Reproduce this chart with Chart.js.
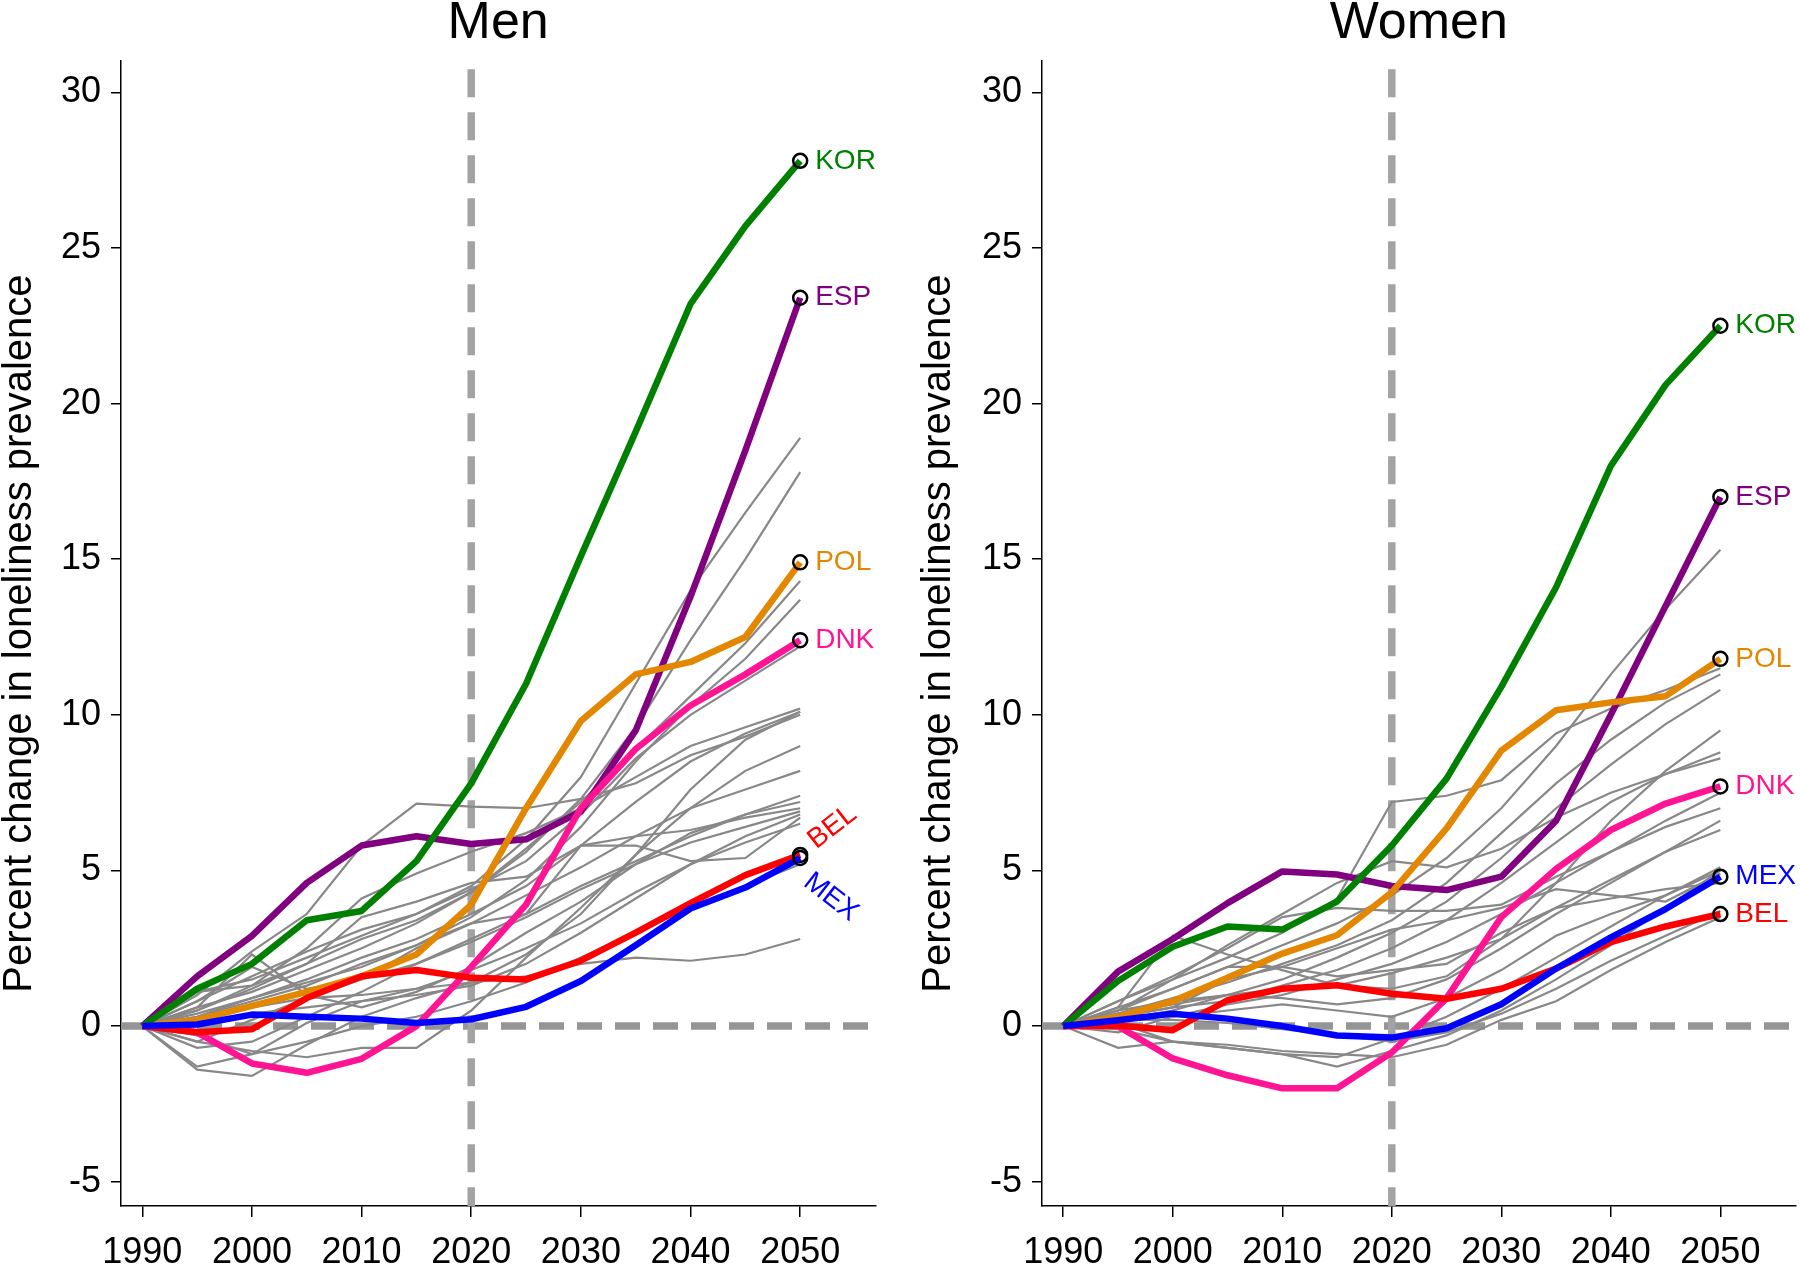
<!DOCTYPE html>
<html>
<head>
<meta charset="utf-8">
<script src="https://cdn.jsdelivr.net/npm/chart.js@4.4.1/dist/chart.umd.min.js"></script>
<style>
  html, body { margin: 0; padding: 0; background: #fff; }
  #wrap { position: relative; width: 1800px; height: 1264px; }
  .panel { position: absolute; top: 0; width: 900px; height: 1264px; }
</style>
</head>
<body>
<div id="wrap">
  <div class="panel" style="left:0"><canvas id="menChart" width="900" height="1264"></canvas></div>
  <div class="panel" style="left:900px"><canvas id="womenChart" width="900" height="1264"></canvas></div>
</div>
<script>
// Data
const years = [1990, 1995, 2000, 2005, 2010, 2015, 2020, 2025, 2030, 2035, 2040, 2045, 2050];
const xTicks = [1990, 2000, 2010, 2020, 2030, 2040, 2050];
const yTicks = [-5, 0, 5, 10, 15, 20, 25, 30];
const xMin = 1988.06, xMax = 2056.86;
const yMin = -5.78, yMax = 31.0;

// Men, highlighted countries
const menKOR = [0, 1.2, 2.0, 3.4, 3.7, 5.3, 7.8, 11.0, 15.1, 19.1, 23.2, 25.7, 27.8];
const menESP = [0, 1.6, 2.9, 4.6, 5.8, 6.1, 5.85, 6.0, 6.9, 9.5, 13.8, 18.5, 23.4];
const menPOL = [0, 0.2, 0.65, 1.1, 1.6, 2.3, 3.9, 7.0, 9.8, 11.3, 11.7, 12.5, 14.9];
const menDNK = [0, -0.2, -1.2, -1.5, -1.05, 0.0, 1.9, 3.9, 7.0, 8.9, 10.3, 11.3, 12.4];
const menBEL = [0, -0.2, -0.1, 0.9, 1.6, 1.8, 1.55, 1.5, 2.1, 3.0, 3.95, 4.85, 5.5];
const menMEX = [0, 0.05, 0.37, 0.3, 0.24, 0.1, 0.22, 0.62, 1.45, 2.6, 3.78, 4.45, 5.4];

// Men, other countries
const menOthers = [
  [0, 0.8, 1.6, 2.4, 3.1, 3.6, 4.5, 6.0, 8.0, 11.0, 14.0, 16.5, 18.9],
  [0, 0.5, 1.2, 2.0, 2.8, 3.4, 4.3, 5.6, 7.3, 9.6, 12.4, 15.0, 17.8],
  [0, 0.6, 1.1, 1.8, 2.5, 3.3, 4.3, 5.7, 7.2, 8.9, 10.6, 12.3, 14.3],
  [0, 0.3, 0.8, 1.3, 2.0, 2.6, 3.5, 4.7, 6.4, 8.5, 10.3, 11.8, 13.7],
  [0, 1.1, 1.5, 2.2, 2.9, 3.6, 4.4, 5.3, 6.8, 8.6, 10.0, 11.1, 12.2],
  [0, 1.0, 2.4, 3.6, 5.8, 7.15, 7.05, 7.0, 7.3, 7.8, 8.7, 9.3, 10.0],
  [0, 0.5, 1.3, 2.5, 4.1, 4.9, 5.6, 6.2, 7.0, 8.0, 9.0, 9.6, 10.2],
  [0, 0.3, 0.9, 1.5, 2.2, 2.8, 3.6, 4.5, 5.8, 7.2, 8.5, 9.4, 10.1],
  [0, 0.4, 0.9, 1.4, 1.9, 2.6, 3.3, 4.2, 5.1, 6.1, 7.0, 7.6, 8.2],
  [0, -0.7, -0.5, 0.3, 1.1, 2.0, 2.8, 3.6, 4.5, 5.3, 6.1, 6.8, 7.4],
  [0, 0.8, 1.9, 1.2, 1.5, 2.5, 3.3, 3.6, 5.8, 5.8, 5.3, 5.4, 6.7],
  [0, -0.5, 0.2, 0.9, 1.5, 2.0, 2.7, 3.5, 4.4, 5.2, 5.9, 6.4, 6.9],
  [0, -0.3, -0.9, -0.5, 0.0, 0.3, 0.8, 1.4, 2.2, 3.0, 3.8, 4.5, 5.2],
  [0, 0.2, 0.6, 0.9, 1.0, 1.2, 1.4, 1.6, 2.0, 2.2, 2.1, 2.3, 2.8],
  [0, -1.3, -0.9, 0.1, 0.8, 1.2, 1.8, 2.5, 3.3, 4.3, 5.2, 5.9, 6.5],
  [0, 0.6, 2.3, 1.0, 0.6, 1.1, 1.9, 3.0, 4.0, 5.2, 6.2, 6.8, 7.2],
  [0, -0.5, -0.8, -1.0, -0.7, -0.7, 0.5, 2.2, 3.8, 5.5, 7.0, 8.2, 9.0],
  [0, 1.1, 1.3, 2.0, 3.5, 4.0, 4.6, 4.8, 5.8, 6.1, 6.3, 6.7, 7.0],
  [0, -1.4, -1.6, -0.6, 0.3, 0.9, 1.4, 2.3, 3.6, 5.5, 7.6, 9.2, 10.1],
  [0, 0.1, 0.4, 0.6, 0.8, 1.0, 1.3, 2.0, 3.0, 4.1, 5.2, 6.1, 6.8]
];

// Women, highlighted countries
const womenKOR = [0, 1.45, 2.55, 3.2, 3.1, 4.0, 5.8, 7.95, 10.9, 14.1, 18.0, 20.6, 22.5];
const womenESP = [0, 1.75, 2.8, 3.95, 4.97, 4.87, 4.5, 4.37, 4.8, 6.6, 10.0, 13.5, 17.0];
const womenPOL = [0, 0.3, 0.8, 1.55, 2.33, 2.92, 4.3, 6.35, 8.85, 10.15, 10.4, 10.6, 11.8];
const womenDNK = [0, 0.0, -1.04, -1.58, -2.0, -2.0, -0.85, 0.9, 3.5, 5.05, 6.3, 7.15, 7.7];
const womenMEX = [0, 0.19, 0.4, 0.24, 0.0, -0.3, -0.37, -0.07, 0.7, 1.85, 2.85, 3.76, 4.8];
const womenBEL = [0, 0.02, -0.13, 0.83, 1.2, 1.31, 1.04, 0.88, 1.2, 1.85, 2.7, 3.2, 3.6];

// Women, other countries
const womenOthers = [
  [0, 0.5, 1.2, 1.9, 2.6, 3.3, 4.2, 5.4, 7.0, 9.0, 11.3, 13.4, 15.3],
  [0, 0.8, 1.5, 2.2, 3.0, 4.1, 7.2, 7.4, 7.9, 9.4, 10.2, 10.8, 11.5],
  [0, 0.4, 0.9, 1.4, 2.0, 2.6, 3.4, 4.6, 6.2, 7.8, 9.2, 10.4, 11.3],
  [0, 0.2, 0.5, 1.0, 1.5, 2.2, 3.0, 4.0, 5.4, 7.0, 8.4, 9.7, 10.8],
  [0, 0.6, 2.9, 2.3, 1.8, 1.3, 1.2, 1.6, 2.8, 4.6, 6.6, 8.2, 9.5],
  [0, 0.3, 0.6, 0.8, 1.3, 1.8, 2.5, 3.4, 4.6, 5.9, 7.2, 8.1, 8.8],
  [0, 0.5, 1.5, 2.6, 3.6, 4.6, 5.3, 5.1, 5.7, 6.7, 7.5, 8.1, 8.6],
  [0, -0.2, 0.3, 0.7, 1.0, 1.5, 2.0, 2.7, 3.6, 4.6, 5.6, 6.6, 7.5],
  [0, 0.8, 1.6, 2.5, 3.5, 3.8, 3.7, 3.7, 3.9, 4.8, 5.6, 6.4, 7.0],
  [0, 0.4, 0.7, 1.0, 0.9, 0.7, 0.9, 1.5, 2.5, 3.6, 4.6, 5.6, 6.6],
  [0, 0.5, 0.8, 1.0, 1.2, 1.3, 1.7, 2.2, 2.8, 3.8, 4.7, 5.6, 6.3],
  [0, 0.1, -0.5, -0.7, -0.9, -1.0, -0.4, 0.3, 1.2, 2.2, 3.2, 4.2, 5.1],
  [0, -0.7, -0.5, -0.7, -0.9, -1.3, -0.8, -0.3, 0.5, 1.5, 2.6, 3.8, 5.0],
  [0, 0.3, 0.6, 1.5, 1.9, 2.5, 3.1, 3.4, 3.8, 4.4, 4.2, 4.0, 4.9],
  [0, 0.6, 1.2, 1.9, 1.9, 1.6, 1.8, 2.0, 3.0, 3.8, 4.1, 4.4, 4.6],
  [0, 0.2, 0.2, 0.1, -0.1, -0.3, -0.5, -0.2, 0.4, 1.2, 2.1, 2.9, 3.7],
  [0, -0.1, -0.5, -0.6, -0.8, -0.9, -1.0, -0.6, 0.2, 0.8, 1.8, 2.7, 3.5],
  [0, 0.4, 0.3, 0.5, 0.7, 0.5, 0.3, 0.9, 1.8, 2.9, 3.6, 4.2, 5.0]
];

const colors = {
  KOR: '#008000',
  ESP: '#800080',
  POL: '#e38600',
  DNK: '#ff1493',
  BEL: '#ff0000',
  MEX: '#0000ff'
};

const FONT = '"Liberation Sans", Arial, Helvetica, sans-serif';

function toPoints(vals) {
    return years.map((yr, i) => ({ x: yr, y: vals[i] }));
}

// Country code written next to the last point of each highlighted line
const endLabels = {
    id: 'endLabels',
    afterDatasetsDraw(chart, args, opts) {
        const { ctx, scales: { x, y } } = chart;
        ctx.save();
        ctx.font = '28px ' + FONT;
        ctx.textBaseline = 'middle';
        ctx.textAlign = 'left';
        opts.items.forEach(it => {
            const px = x.getPixelForValue(years[years.length - 1]);
            const py = y.getPixelForValue(it.data[it.data.length - 1]);
            ctx.save();
            ctx.translate(px, py);
            ctx.rotate((it.angle || 0) * Math.PI / 180);
            ctx.fillStyle = colors[it.text];
            ctx.fillText(it.text, it.dx ?? 15, it.dy ?? 0);
            ctx.restore();
        });
        ctx.restore();
    }
};

function buildDatasets(highlight, others) {
    const sets = [];
    // highlighted lines first: lower order draws on top
    highlight.forEach(([code, vals], i) => {
        sets.push({
            data: toPoints(vals),
            borderColor: colors[code],
            borderWidth: 6.5,
            order: i + 1,
            pointRadius: ctx => ctx.dataIndex === years.length - 1 ? 7 : 0,
            pointBorderColor: '#000',
            pointBorderWidth: 2.5,
            pointBackgroundColor: 'rgba(0,0,0,0)',
            borderJoinStyle: 'round'
        });
    });
    others.forEach(vals => {
        sets.push({
            data: toPoints(vals),
            borderColor: '#888888',
            borderWidth: 2.2,
            order: 50,
            pointRadius: 0
        });
    });
    // reference lines
    sets.push({
        data: [{ x: 2020, y: yMax }, { x: 2020, y: yMin }],
        borderColor: '#a3a3a3',
        borderWidth: 7.5,
        borderDash: [28, 15],
        borderDashOffset: -8,
        borderCapStyle: 'butt',
        order: 90,
        pointRadius: 0
    });
    sets.push({
        data: [{ x: xMin, y: 0 }, { x: xMax, y: 0 }],
        borderColor: '#959595',
        borderWidth: 7.5,
        borderDash: [25, 13],
        borderCapStyle: 'butt',
        order: 91,
        pointRadius: 0
    });
    return sets;
}

function buildOptions(title, yWidth, yTitlePad, rightPad, labelItems) {
    return {
        responsive: false,
        devicePixelRatio: 1,
        animation: false,
        events: [],
        layout: { autoPadding: false, padding: { left: 0, right: rightPad, top: 0, bottom: 0 } },
        plugins: {
            legend: { display: false },
            tooltip: { enabled: false },
            title: {
                display: true,
                text: title,
                fullSize: false,
                color: '#000',
                font: { family: FONT, size: 52, weight: 'normal', lineHeight: 0.85 },
                padding: { top: 2, bottom: 15 }
            },
            endLabels: { items: labelItems }
        },
        scales: {
            x: {
                type: 'linear',
                min: xMin,
                max: xMax,
                afterBuildTicks: s => { s.ticks = xTicks.map(v => ({ value: v })); },
                afterFit: s => { s.height = 58; s.paddingLeft = 0; s.paddingRight = 0; },
                border: { display: true, color: '#000', width: 1.5 },
                grid: { display: true, drawOnChartArea: false, drawTicks: true, tickLength: 11, color: '#000', lineWidth: 1.5 },
                ticks: {
                    color: '#000',
                    padding: 14,
                    maxRotation: 0,
                    autoSkip: false,
                    font: { family: FONT, size: 36 },
                    callback: v => String(v)
                }
            },
            y: {
                type: 'linear',
                min: yMin,
                max: yMax,
                afterBuildTicks: s => { s.ticks = yTicks.map(v => ({ value: v })); },
                afterFit: s => { s.width = yWidth; s.paddingTop = 0; s.paddingBottom = 0; },
                border: { display: true, color: '#000', width: 1.5 },
                grid: { display: true, drawOnChartArea: false, drawTicks: true, tickLength: 10, color: '#000', lineWidth: 1.5 },
                ticks: {
                    color: '#000',
                    padding: 10,
                    autoSkip: false,
                    font: { family: FONT, size: 36 },
                    callback: v => String(v)
                },
                title: {
                    display: true,
                    text: 'Percent change in loneliness prevalence',
                    color: '#000',
                    font: { family: FONT, size: 40, lineHeight: 1.0 },
                    padding: { top: yTitlePad, bottom: 0 }
                }
            }
        }
    };
}

// Men panel
new Chart(document.getElementById('menChart').getContext('2d'), {
    type: 'line',
    data: {
        datasets: buildDatasets(
            [['MEX', menMEX], ['BEL', menBEL], ['DNK', menDNK], ['KOR', menKOR], ['POL', menPOL], ['ESP', menESP]],
            menOthers
        )
    },
    options: buildOptions('Men', 121, 0, 24.6, [
        { text: 'KOR', data: menKOR },
        { text: 'ESP', data: menESP },
        { text: 'POL', data: menPOL },
        { text: 'DNK', data: menDNK },
        { text: 'BEL', data: menBEL, angle: -38, dx: 16, dy: -2 },
        { text: 'MEX', data: menMEX, angle: 38, dx: 18, dy: 12 }
    ]),
    plugins: [endLabels]
});

// Women panel
new Chart(document.getElementById('womenChart').getContext('2d'), {
    type: 'line',
    data: {
        datasets: buildDatasets(
            [['MEX', womenMEX], ['BEL', womenBEL], ['DNK', womenDNK], ['KOR', womenKOR], ['POL', womenPOL], ['ESP', womenESP]],
            womenOthers
        )
    },
    options: buildOptions('Women', 142, 19, 4.5, [
        { text: 'KOR', data: womenKOR },
        { text: 'ESP', data: womenESP },
        { text: 'POL', data: womenPOL },
        { text: 'DNK', data: womenDNK },
        { text: 'MEX', data: womenMEX },
        { text: 'BEL', data: womenBEL }
    ]),
    plugins: [endLabels]
});
</script>
</body>
</html>
